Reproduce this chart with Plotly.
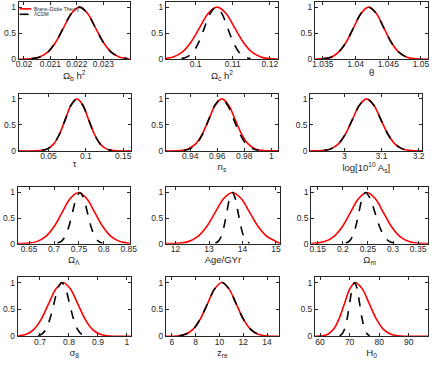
import plotly.graph_objects as go
from plotly.subplots import make_subplots

# normalised 1D posteriors (peak = 1)
red_y = [0, 0.011, 0.044, 0.135, 0.325, 0.607, 0.882, 1.0, 0.882, 0.607, 0.325, 0.135, 0.044, 0.011, 0]
black_y = [0.011, 0.044, 0.135, 0.325, 0.607, 0.882, 1.0, 0.882, 0.607, 0.325, 0.135, 0.044, 0.011]

omegab_red_x = [0.0198, 0.0203, 0.0206, 0.0209, 0.0212, 0.0215, 0.0218, 0.0221, 0.0224, 0.0227, 0.0230, 0.0233, 0.0236, 0.0239, 0.0240]
omegab_black_x = [0.0203, 0.0206, 0.0209, 0.0212, 0.0215, 0.0218, 0.0221, 0.0224, 0.0227, 0.0230, 0.0233, 0.0236, 0.0239]

omegac_red_x = [0.0920, 0.0917, 0.09405, 0.0964, 0.09875, 0.1011, 0.10345, 0.1058, 0.10815, 0.1105, 0.11285, 0.1152, 0.11755, 0.1199, 0.1222]
omegac_black_x = [0.0962, 0.09775, 0.0993, 0.10085, 0.1024, 0.10395, 0.1055, 0.10705, 0.1086, 0.11015, 0.1117, 0.11325, 0.1148]

theta_red_x = [1.0338, 1.0351, 1.03635, 1.0374, 1.03855, 1.0397, 1.04085, 1.0420, 1.04315, 1.0443, 1.04545, 1.0466, 1.04775, 1.0489, 1.0511]
theta_black_x = [1.0351, 1.03635, 1.0374, 1.03855, 1.0397, 1.04085, 1.0420, 1.04315, 1.0443, 1.04545, 1.0466, 1.04775, 1.0489]

tau_red_x = [0.010, 0.0415, 0.04925, 0.057, 0.06475, 0.0725, 0.08025, 0.088, 0.09575, 0.1035, 0.11125, 0.119, 0.12675, 0.1345, 0.160]
tau_black_x = [0.0415, 0.04925, 0.057, 0.06475, 0.0725, 0.08025, 0.088, 0.09575, 0.1035, 0.11125, 0.119, 0.12675, 0.1345]

ns_red_x = [0.922, 0.9344, 0.93865, 0.9441, 0.94895, 0.9538, 0.95865, 0.9635, 0.96835, 0.9732, 0.97805, 0.9829, 0.98775, 0.9926, 1.005]
ns_black_x = [0.9354, 0.9400, 0.9446, 0.9492, 0.9538, 0.9584, 0.9630, 0.9676, 0.9722, 0.9768, 0.9814, 0.9860, 0.9906]

as_red_x = [2.908, 2.946, 2.965, 2.984, 3.003, 3.022, 3.041, 3.060, 3.079, 3.098, 3.117, 3.136, 3.155, 3.174, 3.210]
as_black_x = [2.946, 2.965, 2.984, 3.003, 3.022, 3.041, 3.060, 3.079, 3.098, 3.117, 3.136, 3.155, 3.174]

omegal_red_x = [0.627, 0.650, 0.6665, 0.683, 0.6995, 0.716, 0.7325, 0.749, 0.7655, 0.782, 0.7985, 0.815, 0.8315, 0.848, 0.852]
omegal_black_x = [0.707, 0.7145, 0.722, 0.7295, 0.737, 0.7445, 0.752, 0.7595, 0.767, 0.7745, 0.782, 0.7895, 0.797]

age_red_x = [11.71, 12.14, 12.40, 12.66, 12.92, 13.18, 13.44, 13.70, 13.96, 14.22, 14.48, 14.74, 15.00, 15.10, 15.12]
age_black_x = [13.19, 13.275, 13.36, 13.445, 13.53, 13.615, 13.70, 13.785, 13.87, 13.955, 14.04, 14.125, 14.21]

omegam_red_x = [0.137, 0.149, 0.1655, 0.182, 0.1985, 0.215, 0.2315, 0.248, 0.2645, 0.281, 0.2975, 0.314, 0.3305, 0.347, 0.370]
omegam_black_x = [0.206, 0.2125, 0.219, 0.2255, 0.232, 0.2385, 0.245, 0.2545, 0.264, 0.2735, 0.283, 0.2925, 0.302]

sigma8_red_x = [0.623, 0.630, 0.655, 0.680, 0.705, 0.730, 0.755, 0.780, 0.805, 0.830, 0.855, 0.880, 0.905, 0.930, 1.013]
sigma8_black_x = [0.694, 0.7075, 0.721, 0.7345, 0.748, 0.7615, 0.775, 0.7885, 0.802, 0.8155, 0.829, 0.8425, 0.856]

zre_red_x = [5.5, 6.6, 7.2, 7.8, 8.4, 9.0, 9.6, 10.2, 10.8, 11.4, 12.0, 12.6, 13.2, 13.8, 15.0]
zre_black_x = [6.6, 7.2, 7.8, 8.4, 9.0, 9.6, 10.2, 10.8, 11.4, 12.0, 12.6, 13.2, 13.8]

h0_red_x = [58.3, 60.95, 62.78, 64.6, 66.43, 68.25, 70.08, 71.9, 74.28, 76.65, 79.03, 81.4, 83.78, 86.15, 96.6]
h0_black_x = [66.6, 67.45, 68.3, 69.15, 70.0, 70.85, 71.7, 72.55, 73.4, 74.25, 75.1, 75.95, 76.8]

labels = [
    "Ω<sub>b</sub> h<sup>2</sup>", "Ω<sub>c</sub> h<sup>2</sup>", "θ",
    "τ", "n<sub>s</sub>", "log[10<sup>10</sup> A<sub>s</sub>]",
    "Ω<sub>Λ</sub>", "Age/GYr", "Ω<sub>m</sub>",
    "σ<sub>8</sub>", "z<sub>re</sub>", "H<sub>0</sub>",
]
x_ranges = [
    [0.0198, 0.0240], [0.0920, 0.1222], [1.0338, 1.0511],
    [0.010, 0.160], [0.922, 1.005], [2.908, 3.210],
    [0.627, 0.852], [11.71, 15.12], [0.137, 0.370],
    [0.623, 1.013], [5.5, 15.0], [58.3, 96.6],
]
x_ticks = [
    [0.02, 0.021, 0.022, 0.023], [0.1, 0.11, 0.12], [1.035, 1.04, 1.045, 1.05],
    [0.05, 0.1, 0.15], [0.94, 0.96, 0.98, 1], [3, 3.1, 3.2],
    [0.65, 0.7, 0.75, 0.8, 0.85], [12, 13, 14, 15], [0.15, 0.2, 0.25, 0.3, 0.35],
    [0.7, 0.8, 0.9, 1], [6, 8, 10, 12, 14], [60, 70, 80, 90],
]
red_curves = [omegab_red_x, omegac_red_x, theta_red_x, tau_red_x, ns_red_x, as_red_x,
              omegal_red_x, age_red_x, omegam_red_x, sigma8_red_x, zre_red_x, h0_red_x]
black_curves = [omegab_black_x, omegac_black_x, theta_black_x, tau_black_x, ns_black_x, as_black_x,
                omegal_black_x, age_black_x, omegam_black_x, sigma8_black_x, zre_black_x, h0_black_x]
legend_names = ["Brans–Dicke Theory", "ΛCDM"]

W, H = 443, 366
INK = "#262626"
# axes boxes in pixels (left, right) per panel and (top, bottom) per row
box_x = [(16, 130), (167, 282), (320, 436),
         (16, 131), (167, 282), (315, 430),
         (15, 130), (167, 284), (316, 436),
         (15, 131), (167, 283), (320, 436)]
box_y = [(2, 60), (95, 153), (190, 247), (281, 341)]

fig = make_subplots(rows=4, cols=3)

for i in range(12):
    r, c = i // 3 + 1, i % 3 + 1
    fig.add_trace(go.Scatter(
        x=red_curves[i], y=red_y, mode="lines",
        line=dict(color="#ff0000", width=1.6, shape="spline", smoothing=1.0),
        name=legend_names[0], showlegend=False,
    ), row=r, col=c)
    fig.add_trace(go.Scatter(
        x=black_curves[i], y=black_y, mode="lines",
        line=dict(color="#000000", width=1.6, dash="dash", shape="spline", smoothing=1.0),
        name=legend_names[1], showlegend=False,
    ), row=r, col=c)

    x0, x1 = box_x[i]
    y0, y1 = box_y[r - 1]
    fig.update_xaxes(
        domain=[x0 / W, x1 / W], range=x_ranges[i],
        tickvals=x_ticks[i], ticktext=[f"{v:g}" for v in x_ticks[i]],
        title=dict(text=labels[i], standoff=0, font=dict(size=9.5, color=INK)),
        row=r, col=c,
    )
    fig.update_yaxes(
        domain=[1 - y1 / H, 1 - y0 / H], range=[0, 1.1],
        tickvals=[0, 0.5, 1], ticktext=["0", "0.5", "1"],
        row=r, col=c,
    )

axis_style = dict(
    showgrid=False, zeroline=False, showline=True, linecolor=INK, linewidth=1,
    mirror="ticks", ticks="inside", ticklen=3, tickcolor=INK, tickangle=0,
    tickfont=dict(size=8.5, color=INK),
)
fig.update_xaxes(ticklabelstandoff=-3, **axis_style)
fig.update_yaxes(ticklabelstandoff=0, **axis_style)

# small legend in the first panel, drawn like the MATLAB one
leg_x0, leg_x1, leg_tx = 17 / W, 29 / W, 30 / W
leg_rows = [1 - 9 / H, 1 - 14.5 / H]
shapes = [
    dict(type="line", xref="paper", yref="paper", x0=leg_x0, x1=leg_x1,
         y0=leg_rows[0], y1=leg_rows[0], line=dict(color="#ff0000", width=1.6)),
    dict(type="line", xref="paper", yref="paper", x0=leg_x0, x1=leg_x1,
         y0=leg_rows[1], y1=leg_rows[1], line=dict(color="#000000", width=1.6, dash="dash")),
]

fig.update_layout(
    width=W, height=H,
    margin=dict(l=0, r=0, t=0, b=0),
    paper_bgcolor="white", plot_bgcolor="white",
    font=dict(family="Liberation Sans, Arial, sans-serif", color=INK),
    showlegend=False,
    shapes=shapes,
)
for name, yy in zip(legend_names, leg_rows):
    fig.add_annotation(
        text=name, xref="paper", yref="paper", x=leg_tx, y=yy,
        xanchor="left", yanchor="middle", showarrow=False,
        font=dict(size=5, color=INK),
    )

fig.write_html(
    "out.html",
    config={"displayModeBar": False},
    post_script="document.body.style.margin = '0';",
)
